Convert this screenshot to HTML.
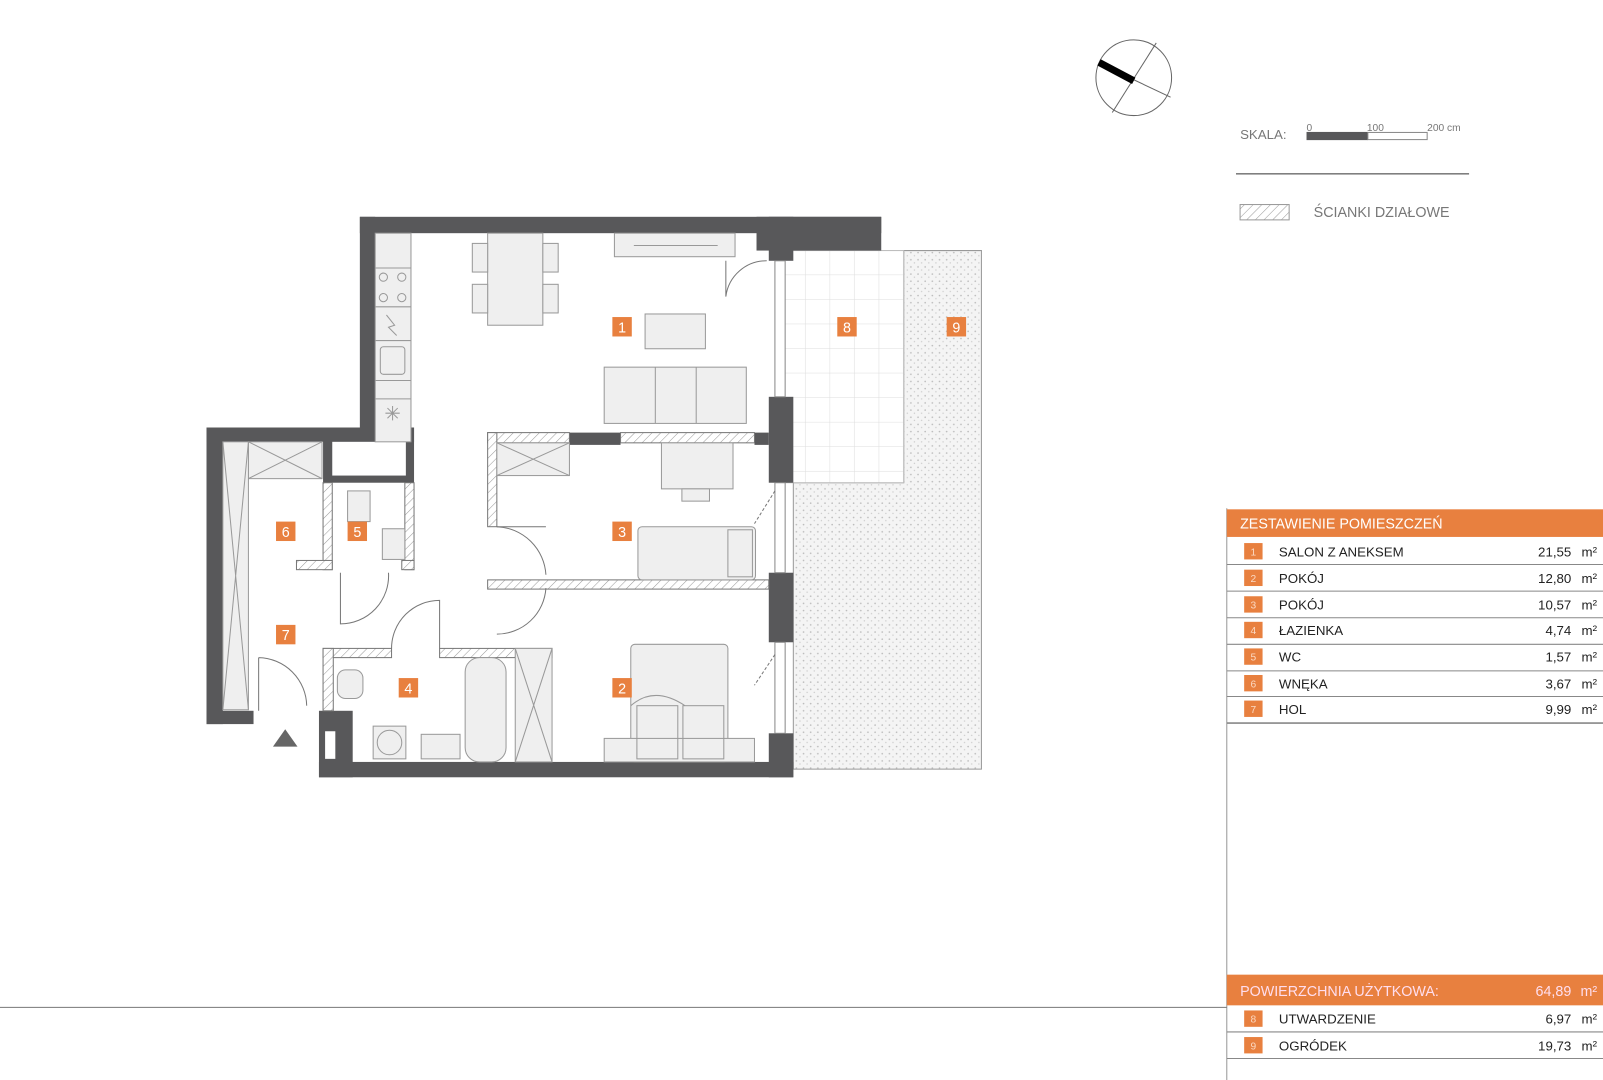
<!DOCTYPE html>
<html><head><meta charset="utf-8"><style>
html,body{margin:0;padding:0;background:#fff}
svg{display:block}
text{font-family:"Liberation Sans",sans-serif}
</style></head><body>
<svg width="1603" height="1080" viewBox="0 0 1568 1056" preserveAspectRatio="none" xmlns="http://www.w3.org/2000/svg">
<defs>
<pattern id="h" width="6" height="6" patternUnits="userSpaceOnUse" patternTransform="rotate(45)">
<rect width="6" height="6" fill="#fff"/><line x1="0" y1="0" x2="0" y2="6" stroke="#999" stroke-width="1"/></pattern>
<pattern id="dots" width="7" height="7" patternUnits="userSpaceOnUse">
<rect width="7" height="7" fill="#f4f4f4"/><circle cx="2" cy="2" r="0.8" fill="#bbb"/><circle cx="5.5" cy="5" r="0.7" fill="#ccc"/></pattern>
<pattern id="tile" width="24" height="24" patternUnits="userSpaceOnUse" x="764" y="245">
<rect width="24" height="24" fill="#fff"/><path d="M24 0V24H0" fill="none" stroke="#ddd" stroke-width="1"/></pattern>
</defs>

<!-- garden & terrace -->
<path d="M884 245H960V752H776V472H884Z" fill="url(#dots)" stroke="#999" stroke-width="1"/>
<rect x="764" y="245" width="120" height="227" fill="url(#tile)" stroke="#bbb"/>

<!-- floor white -->
<path d="M367 228H752V745H326V700H218V432H367Z" fill="#fff"/>

<!-- walls dark -->
<g fill="#58585a">
<rect x="352" y="212" width="510" height="16"/>
<rect x="740" y="212" width="122" height="33"/>
<rect x="352" y="212" width="15" height="220"/>
<rect x="202" y="418" width="203" height="14"/>
<rect x="202" y="418" width="16" height="290"/>
<rect x="202" y="695" width="46" height="13"/>
<rect x="316" y="418" width="89" height="54"/>
<rect x="312" y="745" width="464" height="15"/>
<rect x="312" y="695" width="33" height="65"/>
<rect x="752" y="212" width="24" height="43"/>
<rect x="752" y="388" width="24" height="84"/>
<rect x="752" y="560" width="24" height="68"/>
<rect x="752" y="717" width="24" height="43"/>
<rect x="557" y="423" width="50" height="12"/>
<rect x="738" y="423" width="14" height="12"/>
</g>
<rect x="325" y="432" width="72" height="33" fill="#fff"/>
<rect x="318" y="715" width="10" height="27" fill="#fff"/>

<!-- windows -->
<g fill="#fff" stroke="#888" stroke-width="1">
<rect x="758" y="255" width="10" height="133"/>
<rect x="758" y="472" width="10" height="88"/>
<rect x="758" y="628" width="10" height="89"/>
</g>

<!-- partitions hatched -->
<g fill="url(#h)" stroke="#777" stroke-width="1">
<rect x="477" y="423" width="80" height="10"/>
<rect x="607" y="423" width="131" height="10"/>
<rect x="477" y="423" width="9" height="92"/>
<rect x="477" y="567" width="275" height="9"/>
<rect x="316" y="634" width="67" height="9"/>
<rect x="430" y="634" width="110" height="9"/>
<rect x="316" y="634" width="10" height="61"/>
<rect x="316" y="472" width="9" height="85"/>
<rect x="396" y="472" width="9" height="85"/>
<rect x="290" y="548" width="35" height="9"/>
<rect x="393" y="548" width="12" height="9"/>
</g>

<!-- doors -->
<g fill="none" stroke="#777" stroke-width="1">
<path d="M710 255V290A40 40 0 0 1 750 255"/>
<path d="M486 515A50 50 0 0 1 534 562"/><line x1="486" y1="515" x2="534" y2="515"/>
<path d="M486 620A48 48 0 0 0 534 575"/>
<path d="M333 560V610A47 47 0 0 0 380 560"/>
<path d="M383 634A47 47 0 0 1 430 587V634"/>
<path d="M253 643V695M253 643A48 48 0 0 1 300 690"/>
<path d="M758 480L738 512M758 640L738 670" stroke-dasharray="3,2"/>
</g>

<!-- furniture -->
<g fill="#efefef" stroke="#999" stroke-width="1">
<rect x="367" y="228" width="35" height="204"/>
<rect x="477" y="228" width="54" height="90"/>
<rect x="462" y="238" width="15" height="28"/><rect x="462" y="278" width="15" height="28"/>
<rect x="531" y="238" width="15" height="28"/><rect x="531" y="278" width="15" height="28"/>
<rect x="601" y="228" width="118" height="23"/>
<rect x="631" y="307" width="59" height="34"/>
<rect x="591" y="359" width="139" height="55"/>
<rect x="647" y="433" width="70" height="45"/>
<rect x="667" y="478" width="27" height="12"/>
<rect x="486" y="433" width="71" height="32"/>
<rect x="243" y="432" width="72" height="36"/>
<rect x="218" y="432" width="25" height="262"/>
<rect x="624" y="515" width="115" height="52" rx="4"/>
<rect x="617" y="630" width="95" height="115" rx="4"/>
<rect x="591" y="722" width="147" height="23"/>
<rect x="455" y="643" width="40" height="102" rx="14"/>
<rect x="504" y="634" width="36" height="111"/>
<rect x="365" y="710" width="32" height="32"/>
<rect x="412" y="718" width="38" height="24"/>
<rect x="340" y="480" width="22" height="30"/>
<rect x="374" y="517" width="22" height="30"/>
<rect x="330" y="655" width="25" height="28" rx="8"/>
</g>
<g fill="none" stroke="#999" stroke-width="1">
<line x1="367" y1="262" x2="402" y2="262"/><line x1="367" y1="300" x2="402" y2="300"/>
<line x1="367" y1="333" x2="402" y2="333"/><line x1="367" y1="372" x2="402" y2="372"/><line x1="367" y1="390" x2="402" y2="390"/>
<circle cx="375" cy="271" r="4"/><circle cx="393" cy="271" r="4"/><circle cx="375" cy="291" r="4"/><circle cx="393" cy="291" r="4"/>
<rect x="372" y="339" width="24" height="27" rx="3"/>
<path d="M378 308L386 318L380 320L388 328"/>
<path d="M377 404H391M384 397V411M379 399L389 409M389 399L379 409"/>
<line x1="641" y1="359" x2="641" y2="414"/><line x1="681" y1="359" x2="681" y2="414"/>
<line x1="620" y1="240" x2="702" y2="240"/>
<path d="M243 432L315 468M315 432L243 468M218 432L243 694M243 432L218 694"/>
<path d="M486 433L557 465M557 433L486 465"/>
<path d="M504 634L540 745M540 634L504 745"/>
<circle cx="381" cy="726" r="12"/>
<rect x="712" y="518" width="24" height="46"/>
<rect x="623" y="690" width="40" height="52"/><rect x="668" y="690" width="40" height="52"/>
<path d="M617 690Q640 670 670 690"/>
</g>
<polygon points="267,730 291,730 279,713" fill="#666"/>

<!-- room labels -->
<g font-size="14" fill="#fff" text-anchor="middle">
<rect x="599" y="310" width="19" height="19" fill="#e8803f"/><text x="608.5" y="325">1</text>
<rect x="599" y="663" width="19" height="19" fill="#e8803f"/><text x="608.5" y="678">2</text>
<rect x="599" y="510" width="19" height="19" fill="#e8803f"/><text x="608.5" y="525">3</text>
<rect x="390" y="663" width="19" height="19" fill="#e8803f"/><text x="399.5" y="678">4</text>
<rect x="340" y="510" width="19" height="19" fill="#e8803f"/><text x="349.5" y="525">5</text>
<rect x="270" y="510" width="19" height="19" fill="#e8803f"/><text x="279.5" y="525">6</text>
<rect x="270" y="611" width="19" height="19" fill="#e8803f"/><text x="279.5" y="626">7</text>
<rect x="819" y="310" width="19" height="19" fill="#e8803f"/><text x="828.5" y="325">8</text>
<rect x="926" y="310" width="19" height="19" fill="#e8803f"/><text x="935.5" y="325">9</text>
</g>

<!-- compass -->
<circle cx="1109" cy="76" r="37" fill="none" stroke="#666" stroke-width="1"/>
<line x1="1109" y1="78" x2="1145" y2="95" stroke="#666"/>
<line x1="1131" y1="42" x2="1088" y2="110" stroke="#666"/>
<line x1="1075" y1="61" x2="1109" y2="79" stroke="#000" stroke-width="7"/>

<!-- scale -->
<text x="1213" y="136" font-size="13" fill="#777">SKALA:</text>
<text x="1278" y="128" font-size="10" fill="#777">0</text>
<text x="1337" y="128" font-size="10" fill="#777">100</text>
<text x="1396" y="128" font-size="10" fill="#777">200 cm</text>
<rect x="1278" y="129" width="60" height="8" fill="#58585a"/>
<rect x="1338" y="129.5" width="58" height="7" fill="#fff" stroke="#888"/>
<line x1="1209" y1="170" x2="1437" y2="170" stroke="#333"/>
<rect x="1213" y="200" width="48" height="15" fill="url(#h)" stroke="#999"/>
<text x="1285" y="212" font-size="14" fill="#777">ŚCIANKI DZIAŁOWE</text>

<!-- table -->
<line x1="1200" y1="497" x2="1200" y2="1056" stroke="#999"/>
<line x1="0" y1="985" x2="1200" y2="985" stroke="#777"/>
<rect x="1200" y="498" width="368" height="27" fill="#e8803f"/>
<text x="1213" y="517" font-size="14" fill="#fff">ZESTAWIENIE POMIESZCZEŃ</text>
<g stroke="#888" stroke-width="1">
<line x1="1200" y1="552" x2="1568" y2="552"/><line x1="1200" y1="578" x2="1568" y2="578"/>
<line x1="1200" y1="604" x2="1568" y2="604"/><line x1="1200" y1="630" x2="1568" y2="630"/>
<line x1="1200" y1="656" x2="1568" y2="656"/><line x1="1200" y1="681" x2="1568" y2="681"/>
<line x1="1200" y1="707" x2="1568" y2="707" stroke-width="1.5"/>
<line x1="1200" y1="1009" x2="1568" y2="1009"/><line x1="1200" y1="1035" x2="1568" y2="1035"/>
</g>
<g font-size="13" fill="#222">
<g fill="#e8803f"><rect x="1217" y="531" width="18" height="16"/><rect x="1217" y="557" width="18" height="16"/><rect x="1217" y="583" width="18" height="16"/><rect x="1217" y="608" width="18" height="16"/><rect x="1217" y="634" width="18" height="16"/><rect x="1217" y="660" width="18" height="16"/><rect x="1217" y="685" width="18" height="16"/><rect x="1217" y="988" width="18" height="16"/><rect x="1217" y="1014" width="18" height="16"/></g>
<g fill="#fbd9c3" font-size="10" text-anchor="middle"><text x="1226" y="543">1</text><text x="1226" y="569">2</text><text x="1226" y="595">3</text><text x="1226" y="620">4</text><text x="1226" y="646">5</text><text x="1226" y="672">6</text><text x="1226" y="697">7</text><text x="1226" y="1000">8</text><text x="1226" y="1026">9</text></g>
<text x="1251" y="544">SALON Z ANEKSEM</text><text x="1251" y="570">POKÓJ</text><text x="1251" y="596">POKÓJ</text><text x="1251" y="621">ŁAZIENKA</text><text x="1251" y="647">WC</text><text x="1251" y="673">WNĘKA</text><text x="1251" y="698">HOL</text>
<text x="1251" y="1001">UTWARDZENIE</text><text x="1251" y="1027">OGRÓDEK</text>
<g text-anchor="end"><text x="1537" y="544">21,55</text><text x="1537" y="570">12,80</text><text x="1537" y="596">10,57</text><text x="1537" y="621">4,74</text><text x="1537" y="647">1,57</text><text x="1537" y="673">3,67</text><text x="1537" y="698">9,99</text><text x="1537" y="1001">6,97</text><text x="1537" y="1027">19,73</text></g>
<g><text x="1547" y="544">m²</text><text x="1547" y="570">m²</text><text x="1547" y="596">m²</text><text x="1547" y="621">m²</text><text x="1547" y="647">m²</text><text x="1547" y="673">m²</text><text x="1547" y="698">m²</text><text x="1547" y="1001">m²</text><text x="1547" y="1027">m²</text></g>
</g>
<rect x="1200" y="953" width="368" height="30" fill="#e8803f"/>
<text x="1213" y="974" font-size="14" fill="#fde">POWIERZCHNIA UŻYTKOWA:</text>
<text x="1537" y="974" font-size="14" fill="#fde" text-anchor="end">64,89</text>
<text x="1546" y="974" font-size="14" fill="#fde">m²</text>
</svg>
</body></html>
